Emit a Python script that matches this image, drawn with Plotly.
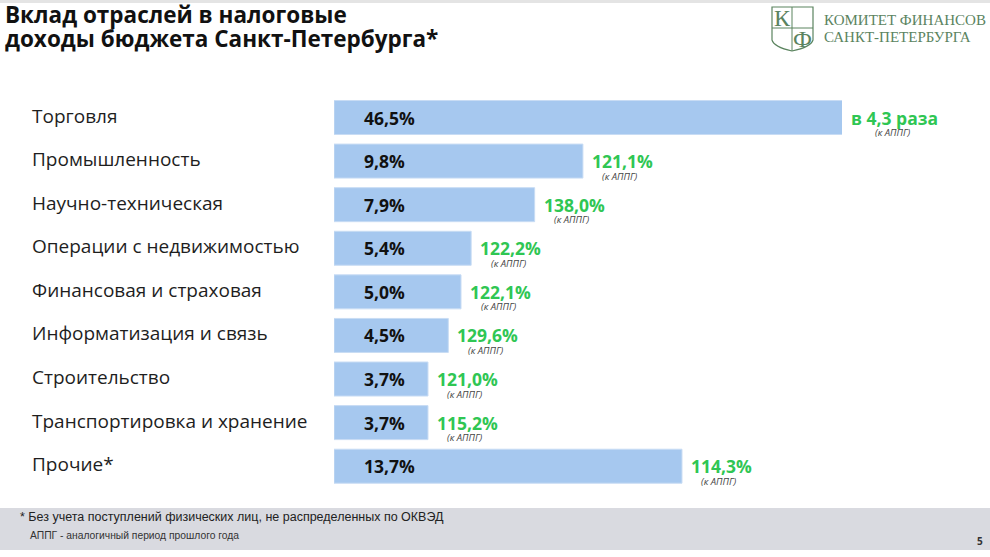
import plotly.graph_objects as go

# данные слайда
categories = [
    "Торговля",
    "Промышленность",
    "Научно-техническая",
    "Операции с недвижимостью",
    "Финансовая и страховая",
    "Информатизация и связь",
    "Строительство",
    "Транспортировка и хранение",
    "Прочие*",
]
shares = [46.5, 9.8, 7.9, 5.4, 5.0, 4.5, 3.7, 3.7, 13.7]
growth = ["в 4,3 раза", "121,1%", "138,0%", "122,2%", "122,1%",
          "129,6%", "121,0%", "115,2%", "114,3%"]
growth_note = "(к АППГ)"

title_lines = ["Вклад отраслей в налоговые", "доходы бюджета Санкт-Петербурга*"]
footnote1 = "* Без учета поступлений физических лиц, не распределенных по ОКВЭД"
footnote2 = "АППГ - аналогичный период прошлого года"
page_no = "5"

X_MAX = 20  # ось обрезана, длинный бар уходит за край

W, H = 990, 557
L, R, T, B = 334, 842, 95, 488


def px(x):
    return (x - L) / (R - L)


def py(y):
    return (B - y) / (B - T)


def fmt(v):
    return f"{v:.1f}".replace(".", ",") + "%"


def text_w(s):
    # грубая ширина надписи в пикселях для Open Sans bold 17.5
    w = 0
    for c in s:
        if c.isdigit():
            w += 10
        elif c == "%":
            w += 15
        elif c in ", ":
            w += 5
        else:
            w += 10.5
    return w


FONT = "Open Sans, Inter, sans-serif"
GREEN = "#2fc653"
LOGO = "#5b845f"

fig = go.Figure(go.Bar(
    x=shares,
    y=categories,
    orientation="h",
    marker=dict(color="#a6c8ef", line=dict(color="#c8dcf4", width=1)),
    hoverinfo="skip",
))

annots = []
for cat, v, g in zip(categories, shares, growth):
    # название отрасли слева
    annots.append(dict(
        x=0, y=cat, xref="x", yref="y", xanchor="left", xshift=-304, yshift=2,
        text=cat, showarrow=False,
        font=dict(family=FONT, size=19, color="#1e1e1e")))
    # доля внутри бара
    annots.append(dict(
        x=0, y=cat, xref="x", yref="y", xanchor="left", xshift=28,
        text="<b>" + fmt(v) + "</b>", showarrow=False,
        font=dict(family=FONT, size=17.5, color="#111111")))
    # рост к АППГ
    gw = text_w(g)
    annots.append(dict(
        x=min(v, X_MAX), y=cat, xref="x", yref="y", xanchor="left",
        xshift=8, yshift=0, borderpad=0,
        text="<b>" + g + "</b>", showarrow=False,
        font=dict(family=FONT, size=17.5, color=GREEN)))
    annots.append(dict(
        x=min(v, X_MAX), y=cat, xref="x", yref="y", xanchor="center",
        xshift=9 + gw / 2 - 2, yshift=-15, borderpad=0,
        text="<i>" + growth_note + "</i>", showarrow=False,
        font=dict(family=FONT, size=9.5, color="#444444")))


def note(x, y, text, size, color, family=FONT, xanchor="left"):
    return dict(x=px(x), y=py(y), xref="paper", yref="paper",
                xanchor=xanchor, yanchor="middle", text=text, showarrow=False,
                borderpad=0, font=dict(family=family, size=size, color=color))


SERIF = "Liberation Serif, serif"
NARROW = "Liberation Sans Narrow, Liberation Sans, sans-serif"

annots += [
    note(4, 14, "<b>" + title_lines[0] + "</b>", 22.5, "#111111"),
    note(4, 38, "<b>" + title_lines[1] + "</b>", 22.5, "#111111"),
    note(823, 20, "КОМИТЕТ ФИНАНСОВ", 15, LOGO, SERIF),
    note(823, 37, "САНКТ-ПЕТЕРБУРГА", 15, LOGO, SERIF),
    note(782, 18, "К", 24, LOGO, SERIF, "center"),
    note(802, 39, "Ф", 24, LOGO, SERIF, "center"),
    note(19, 517, footnote1, 12.5, "#222222", NARROW),
    note(29, 535, footnote2, 10.3, "#333333", NARROW),
    note(980, 541, "<b>" + page_no + "</b>", 10, "#333333", FONT, "center"),
]

shield = "M %f %f L %f %f L %f %f Q %f %f %f %f Q %f %f %f %f Z" % (
    px(772), py(7), px(813), py(7), px(813), py(40),
    px(811), py(47), px(792), py(51),
    px(774), py(47), px(772), py(40))

shapes = [
    # серая плашка со сносками
    dict(type="rect", xref="paper", yref="paper", x0=px(0), x1=px(W),
         y0=py(508), y1=py(550), fillcolor="#d9dae0", line_width=0, layer="below"),
    dict(type="rect", xref="paper", yref="paper", x0=px(0), x1=px(W),
         y0=py(0), y1=py(3), fillcolor="#e4e4e4", line_width=0, layer="below"),
    dict(type="path", xref="paper", yref="paper", path=shield,
         line=dict(color=LOGO, width=1.2)),
    dict(type="line", xref="paper", yref="paper", x0=px(792), x1=px(792),
         y0=py(7), y1=py(51), line=dict(color=LOGO, width=1)),
    dict(type="line", xref="paper", yref="paper", x0=px(772), x1=px(813),
         y0=py(28), y1=py(28), line=dict(color=LOGO, width=1)),
]

fig.update_layout(
    width=W, height=H,
    margin=dict(l=L, r=W - R, t=T, b=H - B),
    paper_bgcolor="white", plot_bgcolor="white",
    bargap=0.22,
    showlegend=False,
    annotations=annots,
    shapes=shapes,
    xaxis=dict(range=[0, X_MAX], visible=False, fixedrange=True),
    yaxis=dict(autorange="reversed", visible=False, fixedrange=True),
)

fig.write_html("out.html", config={"displayModeBar": False},
               post_script="document.body.style.margin='0';")
